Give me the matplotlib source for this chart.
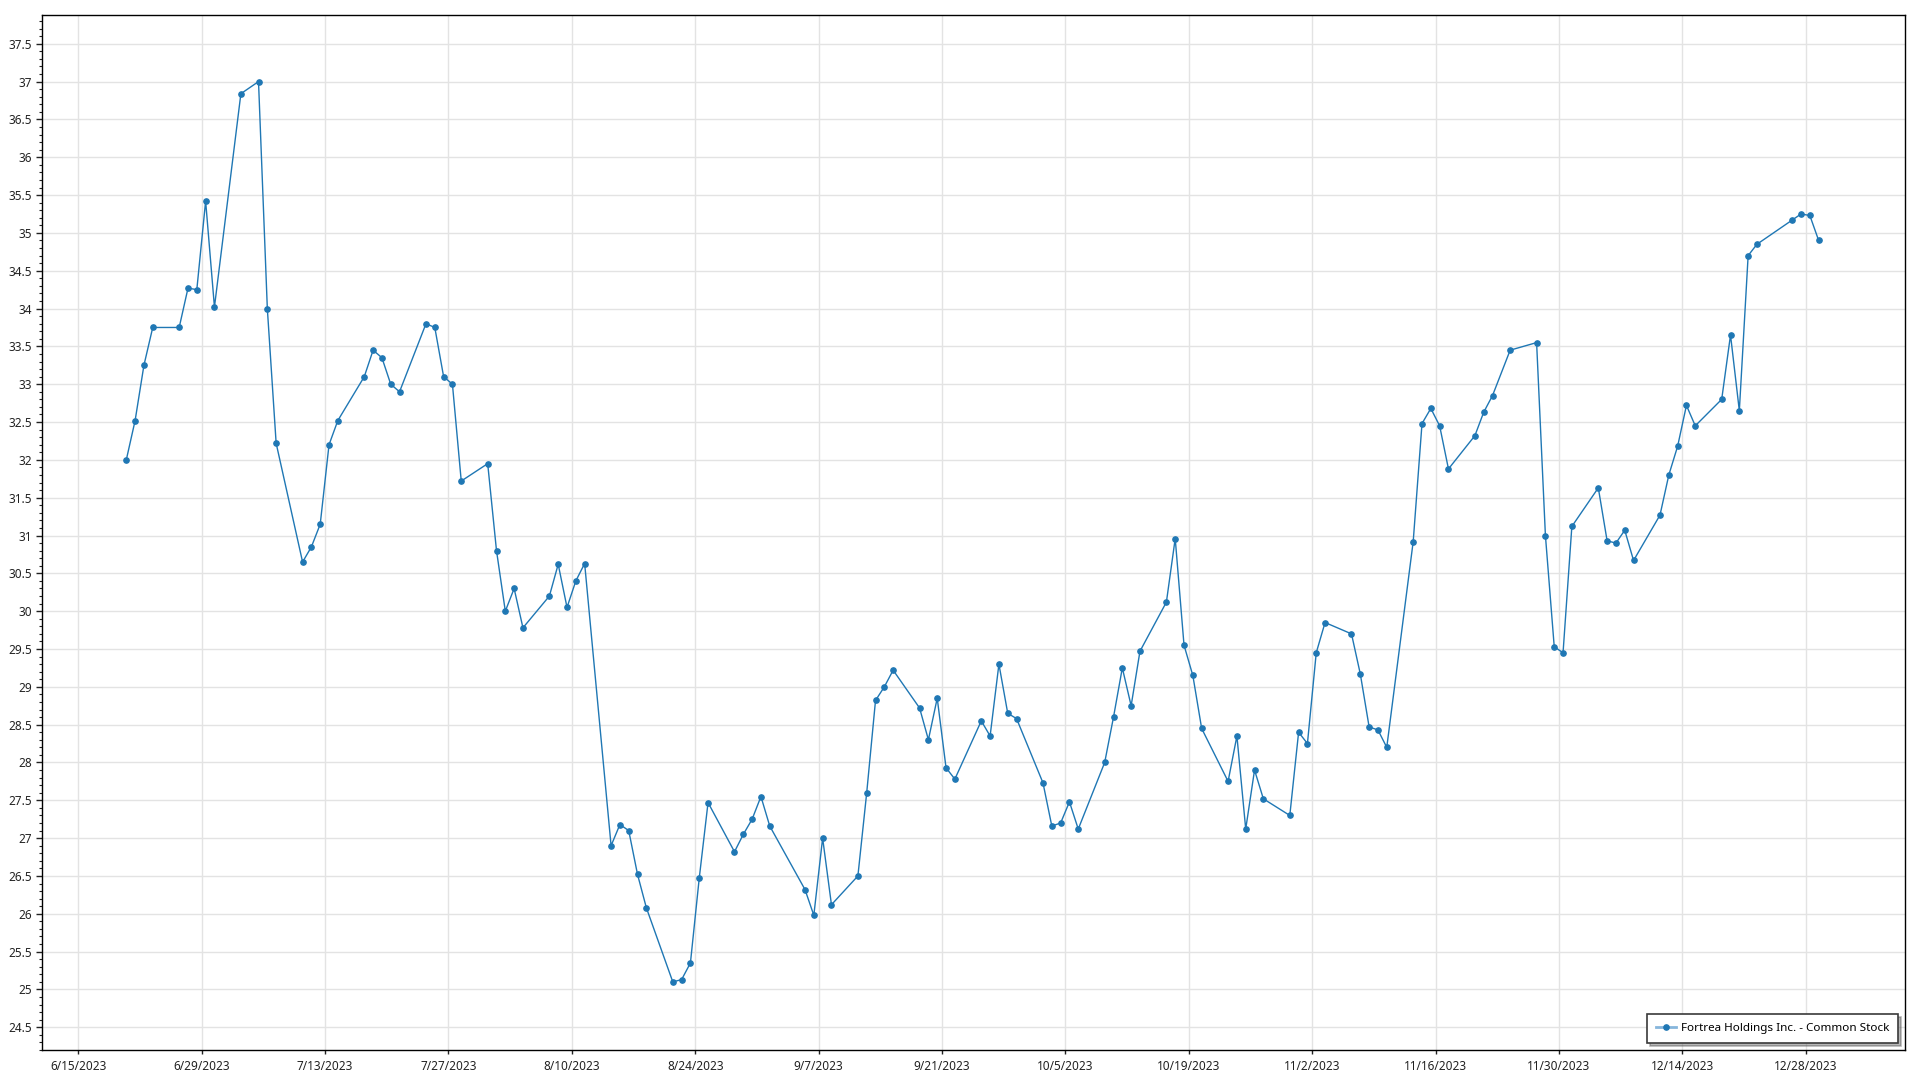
import matplotlib
matplotlib.use("Agg")
import matplotlib.pyplot as plt
import matplotlib.dates as mdates
from matplotlib.ticker import MultipleLocator, FuncFormatter
import pandas as pd

plt.rcParams['font.family'] = ['Noto Sans', 'DejaVu Sans']

# trading days (closing prices)
dates = [
    '2023-06-20', '2023-06-21', '2023-06-22', '2023-06-23',
    '2023-06-26', '2023-06-27', '2023-06-28', '2023-06-29', '2023-06-30',
    '2023-07-03', '2023-07-05', '2023-07-06', '2023-07-07',
    '2023-07-10', '2023-07-11', '2023-07-12', '2023-07-13', '2023-07-14',
    '2023-07-17', '2023-07-18', '2023-07-19', '2023-07-20', '2023-07-21',
    '2023-07-24', '2023-07-25', '2023-07-26', '2023-07-27', '2023-07-28',
    '2023-07-31', '2023-08-01', '2023-08-02', '2023-08-03', '2023-08-04',
    '2023-08-07', '2023-08-08', '2023-08-09', '2023-08-10', '2023-08-11',
    '2023-08-14', '2023-08-15', '2023-08-16', '2023-08-17', '2023-08-18',
    '2023-08-21', '2023-08-22', '2023-08-23', '2023-08-24', '2023-08-25',
    '2023-08-28', '2023-08-29', '2023-08-30', '2023-08-31', '2023-09-01',
    '2023-09-05', '2023-09-06', '2023-09-07', '2023-09-08',
    '2023-09-11', '2023-09-12', '2023-09-13', '2023-09-14', '2023-09-15',
    '2023-09-18', '2023-09-19', '2023-09-20', '2023-09-21', '2023-09-22',
    '2023-09-25', '2023-09-26', '2023-09-27', '2023-09-28', '2023-09-29',
    '2023-10-02', '2023-10-03', '2023-10-04', '2023-10-05', '2023-10-06',
    '2023-10-09', '2023-10-10', '2023-10-11', '2023-10-12', '2023-10-13',
    '2023-10-16', '2023-10-17', '2023-10-18', '2023-10-19', '2023-10-20',
    '2023-10-23', '2023-10-24', '2023-10-25', '2023-10-26', '2023-10-27',
    '2023-10-30', '2023-10-31', '2023-11-01', '2023-11-02', '2023-11-03',
    '2023-11-06', '2023-11-07', '2023-11-08', '2023-11-09', '2023-11-10',
    '2023-11-13', '2023-11-14', '2023-11-15', '2023-11-16', '2023-11-17',
    '2023-11-20', '2023-11-21', '2023-11-22', '2023-11-24',
    '2023-11-27', '2023-11-28', '2023-11-29', '2023-11-30', '2023-12-01',
    '2023-12-04', '2023-12-05', '2023-12-06', '2023-12-07', '2023-12-08',
    '2023-12-11', '2023-12-12', '2023-12-13', '2023-12-14', '2023-12-15',
    '2023-12-18', '2023-12-19', '2023-12-20', '2023-12-21', '2023-12-22',
    '2023-12-26', '2023-12-27', '2023-12-28', '2023-12-29',
]

prices = [
    32.00, 32.52, 33.25, 33.75,
    33.75, 34.27, 34.25, 35.42, 34.02,
    36.84, 37.00, 34.00, 32.22,
    30.65, 30.85, 31.15, 32.20, 32.52,
    33.10, 33.45, 33.35, 33.00, 32.90,
    33.80, 33.75, 33.10, 33.00, 31.72,
    31.95, 30.80, 30.00, 30.30, 29.78,
    30.20, 30.62, 30.05, 30.40, 30.63,
    26.90, 27.18, 27.10, 26.52, 26.08,
    25.10, 25.13, 25.35, 26.47, 27.47,
    26.82, 27.05, 27.25, 27.55, 27.16,
    26.32, 25.98, 27.00, 26.12,
    26.50, 27.60, 28.82, 29.00, 29.22,
    28.72, 28.30, 28.85, 27.93, 27.78,
    28.55, 28.35, 29.30, 28.65, 28.58,
    27.73, 27.16, 27.20, 27.48, 27.12,
    28.00, 28.60, 29.25, 28.75, 29.47,
    30.12, 30.96, 29.55, 29.15, 28.45,
    27.75, 28.35, 27.12, 27.90, 27.52,
    27.30, 28.40, 28.25, 29.45, 29.85,
    29.70, 29.17, 28.47, 28.43, 28.20,
    30.92, 32.48, 32.68, 32.45, 31.88,
    32.32, 32.63, 32.85, 33.45,
    33.55, 31.00, 29.53, 29.45, 31.12,
    31.63, 30.93, 30.90, 31.07, 30.67,
    31.27, 31.80, 32.18, 32.72, 32.45,
    32.80, 33.65, 32.65, 34.70, 34.85,
    35.17, 35.25, 35.23, 34.90,
]

series_name = 'Fortrea Holdings Inc. - Common Stock'

x = pd.to_datetime(dates) + pd.Timedelta(hours=11)

fig = plt.figure(figsize=(19.2, 10.8), dpi=100)
ax = fig.add_axes([0.0219, 0.0278, 0.9705, 0.9583])

ax.plot(x, prices, color='#1f77b4', linewidth=1.0, marker='o', markersize=3.8,
        label=series_name, zorder=3)

start = pd.Timestamp('2023-06-15')
ax.set_xlim(start - pd.Timedelta(days=4.1), start + pd.Timedelta(days=207.3))
ax.set_ylim(24.2, 37.88)

ticks = pd.date_range(start, periods=15, freq='14D')
ax.set_xticks(ticks)
ax.xaxis.set_major_formatter(FuncFormatter(
    lambda v, p: '{d.month}/{d.day}/{d.year}'.format(d=mdates.num2date(v))))

ax.yaxis.set_major_locator(MultipleLocator(0.5))
ax.yaxis.set_minor_locator(MultipleLocator(0.1))
ax.yaxis.set_major_formatter(FuncFormatter(lambda v, p: '%g' % round(v, 2)))

ax.grid(True, which='major', color='#e3e3e3', linewidth=1.0, zorder=0)
ax.set_axisbelow(True)

ax.tick_params(axis='both', which='major', labelsize=8.5, colors='#222222',
               length=4, width=1, pad=3)
ax.tick_params(axis='y', which='minor', length=2.5, width=0.8, colors='#222222')
ax.tick_params(axis='x', which='major', length=3, pad=4)

for s in ax.spines.values():
    s.set_color('black')
    s.set_linewidth(1.0)

leg = ax.legend(loc='lower right', fontsize=8.4, frameon=True, fancybox=False,
                shadow={'alpha': 0.4}, borderpad=0.75, handlelength=1.75,
                handletextpad=0.45, borderaxespad=0.6)
leg.get_frame().set_edgecolor('#3a3a3a')
leg.get_frame().set_linewidth(1.2)
hl = leg.get_lines()[0]
hl.set_color('#86b6dc')
hl.set_linewidth(2.0)
hl.set_markerfacecolor('#1f77b4')
hl.set_markeredgecolor('#1f77b4')

fig.savefig('out.png', dpi=100)
